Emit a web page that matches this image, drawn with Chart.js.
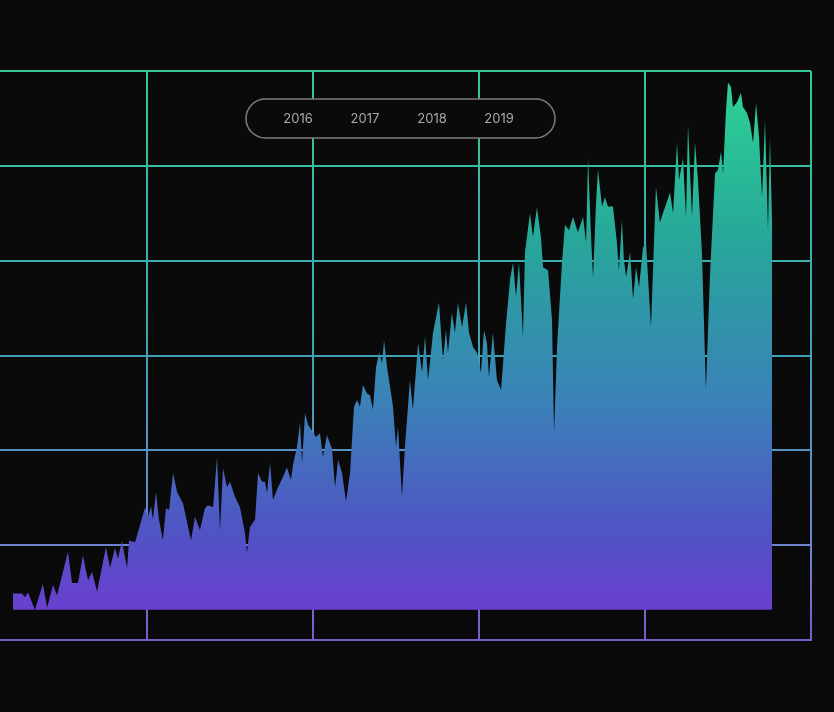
<!DOCTYPE html>
<html>
<head>
<meta charset="utf-8">
<script src="https://cdn.jsdelivr.net/npm/chart.js@4/dist/chart.umd.min.js"></script>
<style>
  html, body { margin: 0; padding: 0; background: #0a0a0a; overflow: hidden; }
  #wrap { position: absolute; left: -19px; top: 0; width: 838px; height: 712px; }
</style>
</head>
<body>
<div id="wrap"><canvas id="chart"></canvas></div>
<script>
const years = ['2016', '2017', '2018', '2019'];

// time in years, value in arbitrary units
const time = [
  2015.193, 2015.247, 2015.265, 2015.283, 2015.325, 2015.373, 2015.398, 2015.434, 2015.458, 2015.524,
  2015.548, 2015.584, 2015.614, 2015.645, 2015.669, 2015.699, 2015.753, 2015.777, 2015.807, 2015.825,
  2015.849, 2015.880, 2015.892, 2015.928, 2015.958, 2015.988, 2016.006, 2016.024, 2016.036, 2016.054,
  2016.072, 2016.096, 2016.114, 2016.133, 2016.157, 2016.181, 2016.217, 2016.265, 2016.289, 2016.319,
  2016.349, 2016.367, 2016.398, 2016.422, 2016.440, 2016.458, 2016.482, 2016.500, 2016.530, 2016.560,
  2016.590, 2016.602, 2016.620, 2016.651, 2016.669, 2016.693, 2016.711, 2016.723, 2016.741, 2016.759,
  2016.789, 2016.819, 2016.843, 2016.867, 2016.880, 2016.904, 2016.922, 2016.934, 2016.952, 2016.970,
  2017.000, 2017.018, 2017.042, 2017.060, 2017.084, 2017.114, 2017.133, 2017.151, 2017.175, 2017.199,
  2017.223, 2017.247, 2017.265, 2017.283, 2017.301, 2017.325, 2017.343, 2017.361, 2017.380, 2017.398,
  2017.416, 2017.428, 2017.446, 2017.464, 2017.482, 2017.500, 2017.512, 2017.536, 2017.554, 2017.584,
  2017.602, 2017.633, 2017.657, 2017.675, 2017.693, 2017.723, 2017.759, 2017.783, 2017.801, 2017.813,
  2017.837, 2017.855, 2017.873, 2017.898, 2017.922, 2017.940, 2017.964, 2017.988, 2018.012, 2018.030,
  2018.048, 2018.060, 2018.084, 2018.108, 2018.133, 2018.163, 2018.187, 2018.205, 2018.223, 2018.241,
  2018.265, 2018.277, 2018.307, 2018.325, 2018.349, 2018.373, 2018.386, 2018.416, 2018.440, 2018.452,
  2018.470, 2018.500, 2018.518, 2018.542, 2018.566, 2018.596, 2018.627, 2018.645, 2018.657, 2018.675,
  2018.687, 2018.705, 2018.717, 2018.741, 2018.759, 2018.777, 2018.807, 2018.831, 2018.843, 2018.861,
  2018.873, 2018.886, 2018.910, 2018.928, 2018.946, 2018.964, 2018.988, 2019.006, 2019.036, 2019.066,
  2019.090, 2019.108, 2019.151, 2019.169, 2019.193, 2019.205, 2019.229, 2019.247, 2019.259, 2019.283,
  2019.301, 2019.319, 2019.343, 2019.367, 2019.392, 2019.422, 2019.440, 2019.458, 2019.470, 2019.488,
  2019.500, 2019.518, 2019.530, 2019.554, 2019.578, 2019.590, 2019.614, 2019.633, 2019.651, 2019.669,
  2019.687, 2019.705, 2019.723, 2019.741, 2019.753, 2019.765
];

const values = [
  49, 49, 45, 50, 32, 59, 34, 58, 47, 93,
  60, 60, 89, 63, 72, 51, 98, 76, 97, 86,
  104, 76, 105, 103, 121, 140, 130, 141, 127, 156,
  127, 105, 139, 137, 176, 156, 144, 105, 130, 116,
  139, 142, 140, 193, 116, 181, 161, 167, 151, 140,
  113, 92, 119, 127, 176, 167, 167, 155, 187, 148,
  161, 172, 182, 169, 185, 204, 229, 187, 239, 227,
  219, 214, 218, 193, 216, 202, 161, 190, 176, 146,
  176, 246, 253, 246, 269, 260, 258, 243, 288, 303,
  292, 316, 288, 267, 246, 204, 225, 151, 204, 274,
  243, 313, 282, 320, 274, 324, 356, 295, 327, 303,
  345, 324, 355, 330, 356, 324, 309, 303, 282, 327,
  313, 277, 324, 274, 264, 334, 380, 398, 362, 398,
  320, 409, 450, 425, 456, 425, 393, 390, 337, 218,
  309, 398, 438, 432, 446, 430, 446, 419, 508, 425,
  382, 461, 496, 457, 467, 457, 457, 419, 390, 443,
  401, 383, 409, 359, 393, 372, 414, 419, 330, 478,
  440, 450, 472, 450, 524, 485, 508, 446, 543, 446,
  525, 485, 408, 264, 387, 492, 496, 515, 492, 559,
  588, 583, 562, 567, 577, 562, 556, 545, 524, 566,
  530, 467, 548, 432, 530, 443
];

const xMin = 2015, xMax = 2020;
const yMin = 0, yMax = 600, yStep = 100;
const baseline = 32;

let gridGrad = null, fillGrad = null, gradKey = '';
function makeGradients(chart) {
  const a = chart.chartArea;
  if (!a) return;
  const key = a.top + ':' + a.bottom;
  if (key === gradKey) return;
  gradKey = key;
  const c = chart.ctx;
  gridGrad = c.createLinearGradient(0, a.top, 0, a.bottom);
  gridGrad.addColorStop(0, '#33c996');
  gridGrad.addColorStop(0.5, '#3fa3b6');
  gridGrad.addColorStop(0.85, '#6f82d2');
  gridGrad.addColorStop(1, '#7a5ccb');
  fillGrad = c.createLinearGradient(0, a.top + 10, 0, a.bottom - 30);
  fillGrad.addColorStop(0, '#2dd294');
  fillGrad.addColorStop(0.3, '#27a79a');
  fillGrad.addColorStop(0.6, '#3a82b8');
  fillGrad.addColorStop(0.85, '#5054c4');
  fillGrad.addColorStop(1, '#6a3fd0');
}
const gridColor = (ctx) => { makeGradients(ctx.chart); return gridGrad || '#3fa3b6'; };

const yearLegend = {
  id: 'yearLegend',
  afterDraw(chart) {
    const c = chart.ctx;
    const x = 265, y = 99, w = 309, h = 39;
    c.save();
    c.beginPath();
    c.roundRect(x, y, w, h, 19.5);
    c.fillStyle = '#0a0a0a';
    c.fill();
    c.lineWidth = 1.5;
    c.strokeStyle = '#7c7c7c';
    c.stroke();
    c.fillStyle = '#a9a9a9';
    c.font = '13px Inter, Roboto, sans-serif';
    c.textAlign = 'center';
    c.textBaseline = 'middle';
    years.forEach((yr, i) => c.fillText(yr, 317 + i * 67, y + h / 2 + 0.5));
    c.restore();
  }
};

new Chart(document.getElementById('chart'), {
  type: 'line',
  data: {
    datasets: [{
      label: 'value',
      data: time.map((t, i) => ({ x: t, y: values[i] })),
      borderWidth: 0,
      pointRadius: 0,
      tension: 0,
      fill: { value: baseline },
      backgroundColor: (ctx) => { makeGradients(ctx.chart); return fillGrad || '#3a82b8'; }
    }]
  },
  options: {
    responsive: true,
    maintainAspectRatio: false,
    animation: false,
    layout: { padding: { top: 71, bottom: 72, left: 0, right: 8 } },
    plugins: { legend: { display: false }, tooltip: { enabled: false } },
    scales: {
      x: {
        type: 'linear', min: xMin, max: xMax,
        ticks: { display: false, stepSize: 1 },
        grid: { color: gridColor, lineWidth: 2, drawTicks: false },
        border: { display: true, color: '#7a5ccb', width: 2 }
      },
      y: {
        min: yMin, max: yMax,
        ticks: { display: false, stepSize: yStep },
        grid: { color: gridColor, lineWidth: 2, drawTicks: false },
        border: { display: true, color: gridColor, width: 2 }
      }
    }
  },
  plugins: [yearLegend]
});
</script>
</body>
</html>
